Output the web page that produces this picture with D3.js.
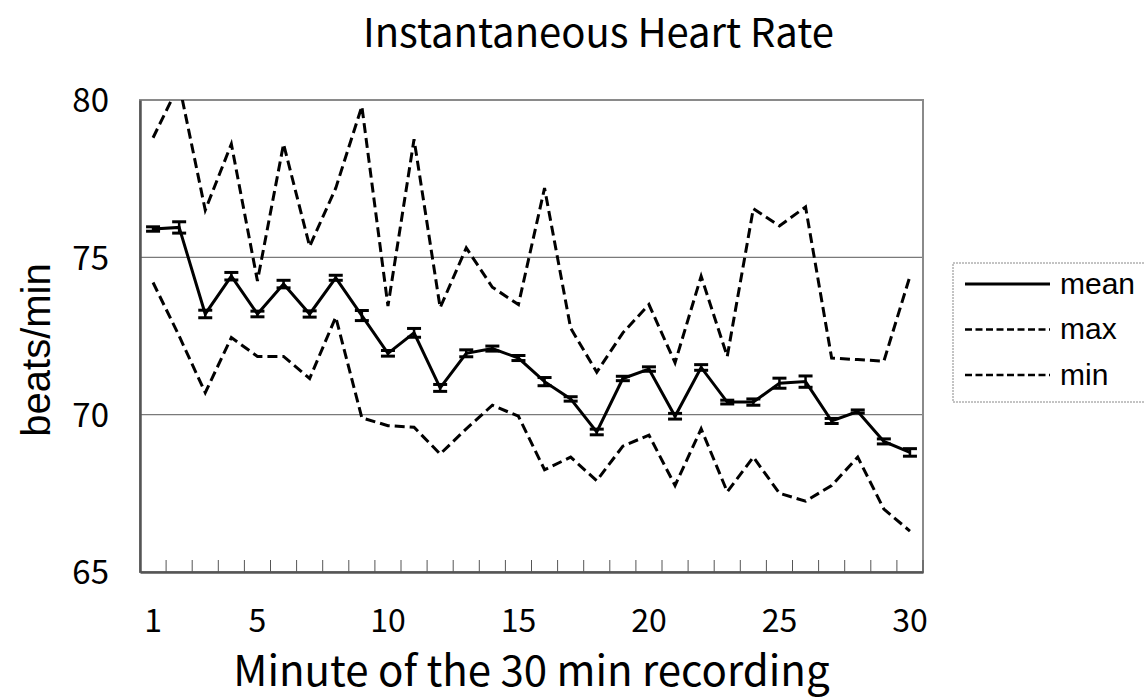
<!DOCTYPE html>
<html lang="en">
<head>
<meta charset="utf-8">
<title>Instantaneous Heart Rate</title>
<script src="https://cdn.jsdelivr.net/npm/d3@7/dist/d3.min.js"></script>
<style>
  body { margin: 0; background: #fff; }
  .jp { font-family: "Noto Sans CJK JP", "Noto Sans", sans-serif; fill: #000; }
  .arial { font-family: "Liberation Sans", Arial, sans-serif; fill: #000; }
</style>
</head>
<body>
<script>
// minute of the recording (categories)
var minutes = [1, 2, 3, 4, 5, 6, 7, 8, 9, 10, 11, 12, 13, 14, 15,
               16, 17, 18, 19, 20, 21, 22, 23, 24, 25, 26, 27, 28, 29, 30];
var xTickLabels = [1, 5, 10, 15, 20, 25, 30];
var yTicks = [65, 70, 75, 80];
var gridValues = [70, 75];

// beats/min
var meanHR = [75.9, 75.95, 73.2, 74.4, 73.2, 74.15, 73.2, 74.35, 73.15, 71.95,
              72.6, 70.85, 71.95, 72.1, 71.8, 71.05, 70.5, 69.45, 71.15, 71.45,
              69.95, 71.5, 70.4, 70.4, 71.0, 71.05, 69.8, 70.1, 69.15, 68.8];
var errHR  = [0.07, 0.18, 0.12, 0.12, 0.09, 0.12, 0.1, 0.08, 0.16, 0.09,
              0.14, 0.11, 0.11, 0.08, 0.08, 0.13, 0.07, 0.09, 0.07, 0.07,
              0.09, 0.09, 0.06, 0.1, 0.16, 0.18, 0.08, 0.05, 0.08, 0.12];
var maxHR  = [78.8, 80.5, 76.5, 78.6, 74.25, 78.6, 75.35, 77.2, 79.8, 73.45,
              78.75, 73.4, 75.3, 74.05, 73.5, 77.2, 72.75, 71.35, 72.6, 73.5,
              71.65, 74.4, 71.85, 76.55, 76.0, 76.6, 71.8, 71.75, 71.7, 74.4];
var minHR  = [74.2, 72.5, 70.7, 72.45, 71.85, 71.85, 71.15, 73.1, 69.9, 69.65,
              69.6, 68.75, 69.55, 70.3, 69.95, 68.25, 68.65, 67.9, 69.0, 69.35,
              67.75, 69.55, 67.55, 68.65, 67.5, 67.25, 67.75, 68.65, 67.0, 66.3];

var legendLabels = ["mean", "max", "min"];

var w = 1144, h = 698;
var plotLeft = 140, plotRight = 923, plotTop = 100, plotBottom = 572;

var svg = d3.select("body").append("svg")
    .attr("width", w)
    .attr("height", h);

svg.append("rect").attr("width", w).attr("height", h).attr("fill", "#fff");

var x = d3.scaleBand().domain(minutes).range([plotLeft, plotRight]).padding(0);
var y = d3.scaleLinear().domain([65, 80]).range([plotBottom, plotTop]);
var cx = function(m) { return x(m) + x.bandwidth() / 2; };

svg.append("clipPath").attr("id", "plotclip")
  .append("rect")
    .attr("x", plotLeft).attr("y", plotTop)
    .attr("width", plotRight - plotLeft).attr("height", plotBottom - plotTop);

// gridlines
svg.selectAll("line.grid")
   .data(gridValues)
   .enter()
   .append("line")
   .attr("class", "grid")
   .attr("x1", plotLeft).attr("x2", plotRight)
   .attr("y1", function(d) { return y(d); })
   .attr("y2", function(d) { return y(d); })
   .attr("stroke", "#7a7a7a")
   .attr("stroke-width", 1.2);

// plot frame (top + right grey)
svg.append("rect")
   .attr("x", plotLeft).attr("y", plotTop)
   .attr("width", plotRight - plotLeft).attr("height", plotBottom - plotTop)
   .attr("fill", "none")
   .attr("stroke", "#8a8a8a")
   .attr("stroke-width", 2);

// x axis: inner ticks at category boundaries
var xAxis = d3.axisBottom(x)
    .tickValues(minutes)
    .tickSizeInner(-12)
    .tickSizeOuter(0)
    .tickFormat("");
var gx = svg.append("g")
    .attr("transform", "translate(0," + plotBottom + ")")
    .call(xAxis);
gx.selectAll(".tick line")
  .attr("transform", "translate(" + (x.bandwidth() / 2) + ",0)")
  .attr("stroke", "#555");
gx.select(".domain").attr("stroke", "#555").attr("stroke-width", 2.5);

svg.selectAll("text.xlab")
   .data(xTickLabels)
   .enter()
   .append("text")
   .attr("class", "jp xlab")
   .attr("x", function(d) { return cx(d); })
   .attr("y", 632)
   .attr("text-anchor", "middle")
   .style("font-size", "32px")
   .text(function(d) { return d; });

// y axis
var yAxis = d3.axisLeft(y)
    .tickValues(yTicks)
    .tickSizeInner(0)
    .tickSizeOuter(0)
    .tickPadding(31);
var gy = svg.append("g")
    .attr("transform", "translate(" + plotLeft + ",0)")
    .call(yAxis);
gy.select(".domain").attr("stroke", "#555").attr("stroke-width", 2.5);
gy.selectAll("text")
  .attr("class", "jp")
  .attr("dy", "0.36em")
  .style("font-size", "33px");

var clipped = svg.append("g").attr("clip-path", "url(#plotclip)");

var line = d3.line()
    .x(function(d) { return cx(d.m); })
    .y(function(d) { return y(d.v); });

function series(vals) {
  return minutes.map(function(m, i) { return { m: m, v: vals[i] }; });
}

clipped.append("path")
   .datum(series(maxHR))
   .attr("d", line)
   .attr("fill", "none")
   .attr("stroke", "#000")
   .attr("stroke-width", 3)
   .attr("stroke-dasharray", "10,5");

clipped.append("path")
   .datum(series(minHR))
   .attr("d", line)
   .attr("fill", "none")
   .attr("stroke", "#000")
   .attr("stroke-width", 3)
   .attr("stroke-dasharray", "10,5");

clipped.append("path")
   .datum(series(meanHR))
   .attr("d", line)
   .attr("fill", "none")
   .attr("stroke", "#000")
   .attr("stroke-width", 3);

// error bars
var eb = clipped.selectAll("g.err")
   .data(minutes.map(function(m, i) { return { m: m, v: meanHR[i], e: errHR[i] }; }))
   .enter()
   .append("g")
   .attr("class", "err")
   .attr("stroke", "#000")
   .attr("stroke-width", 2.5);
eb.append("line")
  .attr("x1", function(d) { return cx(d.m); })
  .attr("x2", function(d) { return cx(d.m); })
  .attr("y1", function(d) { return y(d.v + d.e); })
  .attr("y2", function(d) { return y(d.v - d.e); });
[1, -1].forEach(function(s) {
  eb.append("line")
    .attr("x1", function(d) { return cx(d.m) - 7; })
    .attr("x2", function(d) { return cx(d.m) + 7; })
    .attr("y1", function(d) { return y(d.v + s * d.e); })
    .attr("y2", function(d) { return y(d.v + s * d.e); })
    .attr("stroke-width", 3);
});

// titles
svg.append("text")
   .attr("class", "jp")
   .attr("x", 363)
   .attr("y", 47)
   .style("font-size", "40px")
   .text("Instantaneous Heart Rate");

svg.append("text")
   .attr("class", "jp")
   .attr("x", (plotLeft + plotRight) / 2)
   .attr("y", 686)
   .attr("text-anchor", "middle")
   .style("font-size", "42px")
   .text("Minute of the 30 min recording");

svg.append("text")
   .attr("class", "arial")
   .attr("transform", "translate(50,350) rotate(-90)")
   .attr("text-anchor", "middle")
   .style("font-size", "40px")
   .text("beats/min");

// legend
var lg = svg.append("g");
lg.append("rect")
  .attr("x", 953).attr("y", 263)
  .attr("width", 260).attr("height", 139)
  .attr("fill", "#fff")
  .attr("stroke", "#888")
  .attr("stroke-width", 1)
  .attr("stroke-dasharray", "2,1");

var legY = d3.scalePoint().domain(legendLabels).range([284, 375]);
var item = lg.selectAll("g.item")
  .data(legendLabels)
  .enter()
  .append("g")
  .attr("class", "item");
item.append("line")
  .attr("x1", 965).attr("x2", 1050)
  .attr("y1", function(d) { return legY(d); })
  .attr("y2", function(d) { return legY(d); })
  .attr("stroke", "#000")
  .attr("stroke-width", function(d) { return d === "mean" ? 3 : 2.5; })
  .attr("stroke-dasharray", function(d) { return d === "mean" ? null : "7,3.5"; });
item.append("text")
  .attr("class", "arial")
  .attr("x", 1060)
  .attr("y", function(d) { return legY(d); })
  .attr("dy", "0.32em")
  .style("font-size", "30px")
  .text(function(d) { return d; });
</script>
</body>
</html>
